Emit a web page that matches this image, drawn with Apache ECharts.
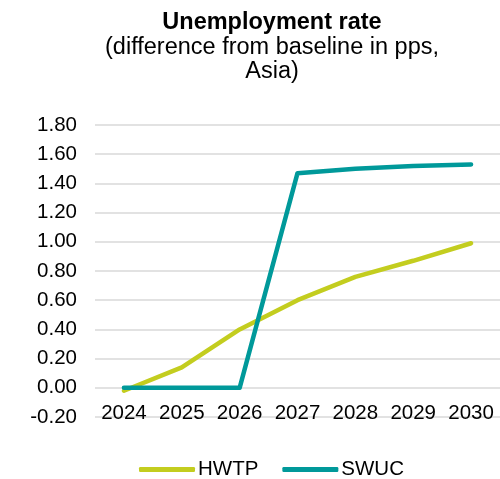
<!DOCTYPE html>
<html>
<head>
<meta charset="utf-8">
<script src="https://cdn.jsdelivr.net/npm/echarts@6/dist/echarts.min.js"></script>
<style>
  html, body { margin: 0; padding: 0; background: #fff; }
  #chart { width: 500px; height: 479px; }
</style>
</head>
<body>
<div id="chart"></div>
<script>
// Years on the horizontal axis
const years = ['2024', '2025', '2026', '2027', '2028', '2029', '2030'];
// Difference from baseline, percentage points
const hwtp = [-0.02, 0.14, 0.40, 0.60, 0.76, 0.87, 0.99];
const swuc = [0.00, 0.00, 0.00, 1.47, 1.50, 1.52, 1.53];

const font = 'Liberation Sans, Arial, sans-serif';
const chart = echarts.init(document.getElementById('chart'), null, { renderer: 'canvas' });

chart.setOption({
  animation: false,
  backgroundColor: '#ffffff',
  title: {
    text: 'Unemployment rate',
    subtext: '(difference from baseline in pps,\nAsia)',
    left: 267,
    textAlign: 'center',
    top: 5,
    itemGap: 0,
    textStyle: { fontFamily: font, fontSize: 23.5, fontWeight: 'bold', color: '#000', lineHeight: 26 },
    subtextStyle: { fontFamily: font, fontSize: 23.5, color: '#000', lineHeight: 24, align: 'center' }
  },
  grid: { left: 95, top: 125, width: 406, bottom: 62, containLabel: false },
  xAxis: {
    type: 'category',
    data: years,
    boundaryGap: true,
    axisLine: { show: false, onZero: false },
    axisTick: { show: false },
    axisLabel: { color: '#000', fontFamily: font, fontSize: 20.5, margin: -14, interval: 0 }
  },
  yAxis: {
    type: 'value',
    min: -0.2,
    max: 1.8,
    interval: 0.2,
    axisLine: { show: false },
    axisTick: { show: false },
    axisLabel: {
      color: '#000', fontFamily: font, fontSize: 20.5, margin: 18,
      formatter: v => v.toFixed(2)
    },
    splitLine: { lineStyle: { color: '#d9d9d9', width: 1.5 } }
  },
  legend: {
    top: 454,
    left: 134,
    itemWidth: 56,
    itemHeight: 5,
    itemGap: 24,
    icon: 'roundRect',
    textStyle: { fontFamily: font, fontSize: 20.5, color: '#000', padding: [0, 0, 0, -2] },
    data: ['HWTP', 'SWUC']
  },
  series: [
    {
      name: 'HWTP', type: 'line', data: hwtp, symbol: 'none',
      lineStyle: { color: '#C3CD1F', width: 4.5, cap: 'round', join: 'round' },
      itemStyle: { color: '#C3CD1F' }
    },
    {
      name: 'SWUC', type: 'line', data: swuc, symbol: 'none',
      lineStyle: { color: '#00999A', width: 4.5, cap: 'round', join: 'round' },
      itemStyle: { color: '#00999A' }
    }
  ]
});
</script>
</body>
</html>
